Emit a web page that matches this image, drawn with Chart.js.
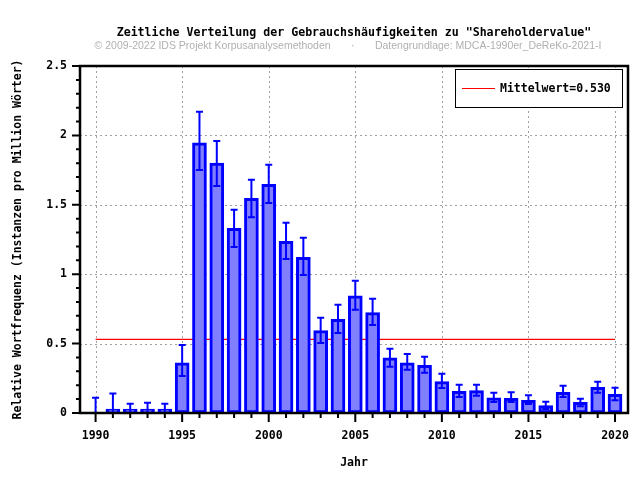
<!DOCTYPE html>
<html>
<head>
<meta charset="utf-8">
<script src="https://cdn.jsdelivr.net/npm/chart.js@4/dist/chart.umd.min.js"></script>
<style>
  html, body { margin: 0; padding: 0; background: #fff; }
  canvas { display: block; }
</style>
</head>
<body>
<canvas id="chart" width="640" height="480"></canvas>
<script>
const years = [1990, 1991, 1992, 1993, 1994, 1995, 1996, 1997, 1998, 1999, 2000,
  2001, 2002, 2003, 2004, 2005, 2006, 2007, 2008, 2009, 2010,
  2011, 2012, 2013, 2014, 2015, 2016, 2017, 2018, 2019, 2020]
const values = [0, 0.02, 0.012, 0.02, 0.012, 0.362, 1.947, 1.80, 1.33, 1.547, 1.648,
  1.237, 1.122, 0.593, 0.675, 0.845, 0.723, 0.398, 0.362, 0.343, 0.226,
  0.156, 0.161, 0.11, 0.106, 0.091, 0.053, 0.149, 0.077, 0.185, 0.135]
const errLow = [0, 0, 0, 0, 0, 0.267, 1.75, 1.635, 1.196, 1.41, 1.513,
  1.11, 0.994, 0.504, 0.576, 0.744, 0.634, 0.334, 0.312, 0.29, 0.18,
  0.115, 0.125, 0.079, 0.079, 0.065, 0.029, 0.115, 0.048, 0.146, 0.091]
const errHigh = [0.11, 0.14, 0.067, 0.074, 0.067, 0.49, 2.17, 1.96, 1.465, 1.68, 1.789,
  1.371, 1.263, 0.687, 0.78, 0.953, 0.823, 0.463, 0.425, 0.406, 0.283,
  0.204, 0.204, 0.146, 0.149, 0.128, 0.081, 0.197, 0.103, 0.226, 0.182]
const meanValue = 0.530
const xTicks = [1990, 1995, 2000, 2005, 2010, 2015, 2020]
const yTicks = [0, 0.5, 1, 1.5, 2, 2.5]
const yTickLabels = ["0", "0.5", "1", "1.5", "2", "2.5"]

const titleText = 'Zeitliche Verteilung der Gebrauchshäufigkeiten zu "Shareholdervalue"'
const subtitleText = "© 2009-2022 IDS Projekt Korpusanalysemethoden       ·       Datengrundlage: MDCA-1990er_DeReKo-2021-I"

const mono = '"DejaVu Sans Mono", monospace'
const tickFont = { family: mono, size: 11.5, weight: "bold" }

const decor = {
    id: "decor",
    beforeDatasetsDraw(chart) {
        const { ctx, chartArea: a, scales: { x, y } } = chart
        ctx.save()
        ctx.strokeStyle = "#a0a0a0"
        ctx.lineWidth = 1
        ctx.setLineDash([2, 3])
        ctx.beginPath()
        xTicks.forEach(v => {
            const px = Math.round(x.getPixelForValue(v)) + 0.5
            ctx.moveTo(px, a.top)
            ctx.lineTo(px, a.bottom)
        })
        yTicks.slice(1, -1).forEach(v => {
            const py = Math.round(y.getPixelForValue(v)) + 0.5
            ctx.moveTo(a.left, py)
            ctx.lineTo(a.right, py)
        })
        ctx.stroke()
        ctx.restore()
    },
    afterDatasetsDraw(chart) {
        const { ctx, chartArea: a, scales: { x, y } } = chart
        ctx.save()

        // error bars
        ctx.strokeStyle = "#0000ff"
        ctx.lineWidth = 2
        ctx.beginPath()
        years.forEach((yr, i) => {
            const px = x.getPixelForValue(yr)
            const lo = y.getPixelForValue(errLow[i])
            const hi = y.getPixelForValue(errHigh[i])
            ctx.moveTo(px, lo)
            ctx.lineTo(px, hi)
            ctx.moveTo(px - 3.5, lo)
            ctx.lineTo(px + 3.5, lo)
            ctx.moveTo(px - 3.5, hi)
            ctx.lineTo(px + 3.5, hi)
        })
        ctx.stroke()

        // tick marks
        ctx.strokeStyle = "#000"
        ctx.lineWidth = 2
        ctx.beginPath()
        for (let yr = xTicks[0]; yr <= xTicks[xTicks.length - 1]; yr++) {
            const px = x.getPixelForValue(yr)
            const len = xTicks.includes(yr) ? 9 : 5
            ctx.moveTo(px, a.bottom)
            ctx.lineTo(px, a.bottom + len)
        }
        for (let k = 0; k <= 25; k++) {
            const py = y.getPixelForValue(k / 10)
            const len = k % 5 === 0 ? 8 : 4
            ctx.moveTo(a.left, py)
            ctx.lineTo(a.left - len, py)
        }
        ctx.stroke()

        // frame
        ctx.lineWidth = 2.5
        ctx.strokeRect(a.left, a.top, a.right - a.left, a.bottom - a.top)

        // legend
        const lx = a.right - 173, ly = a.top + 3, lw = 167, lh = 38
        ctx.fillStyle = "#fff"
        ctx.fillRect(lx, ly, lw, lh)
        ctx.lineWidth = 1
        ctx.strokeRect(lx + 0.5, ly + 0.5, lw, lh)
        const ds = chart.data.datasets[1]
        ctx.strokeStyle = ds.borderColor
        ctx.beginPath()
        ctx.moveTo(lx + 7, ly + 19.5)
        ctx.lineTo(lx + 40, ly + 19.5)
        ctx.stroke()
        ctx.fillStyle = "#000"
        ctx.font = "bold 11.5px " + mono
        ctx.textBaseline = "middle"
        ctx.textAlign = "left"
        ctx.fillText(ds.label, lx + 45, ly + 20)

        ctx.restore()
    },
    afterDraw(chart) {
        const { ctx, chartArea: a } = chart
        const cx = (a.left + a.right) / 2
        ctx.save()
        ctx.textAlign = "center"
        ctx.textBaseline = "middle"
        ctx.fillStyle = "#000"
        ctx.font = "bold 11.6px " + mono
        ctx.fillText(titleText, cx, 33)
        ctx.fillStyle = "#b0b0b0"
        ctx.font = '10.5px "Liberation Sans", Arial, sans-serif'
        ctx.fillText(subtitleText, cx - 6, 46)
        ctx.restore()
    }
}

new Chart(document.getElementById("chart"), {
    type: "bar",
    data: {
        datasets: [
            {
                label: "Relative Wortfrequenz",
                // a zero year has no bar at all, only its error bar
                data: years.map((yr, i) => ({ x: yr, y: values[i] === 0 ? null : values[i] })),
                backgroundColor: "#8080ff",
                borderColor: "#0000ff",
                borderWidth: 3,
                borderSkipped: false,
                barThickness: 14,
                minBarLength: 4,
                order: 0,
            },
            {
                type: "line",
                label: "Mittelwert=" + meanValue.toFixed(3),
                data: [
                    { x: years[0], y: meanValue },
                    { x: years[years.length - 1], y: meanValue },
                ],
                borderColor: "#ff0000",
                borderWidth: 1.2,
                pointRadius: 0,
                order: 1,
            },
        ],
    },
    options: {
        responsive: false,
        animation: false,
        layout: { padding: { top: 66, right: 12, bottom: 0, left: 0 } },
        plugins: {
            legend: { display: false },
            tooltip: { enabled: false },
        },
        scales: {
            x: {
                type: "linear",
                offset: false,
                min: 1989.1,
                max: 2020.75,
                afterBuildTicks: s => { s.ticks = xTicks.map(v => ({ value: v })) },
                afterFit: s => { s.height = 67; s.paddingLeft = 0; s.paddingRight = 0 },
                grid: { display: false, drawTicks: false, offset: false },
                border: { display: false },
                ticks: { padding: 16, color: "#000", font: tickFont, callback: v => String(v) },
                title: { display: true, text: "Jahr", color: "#000", font: tickFont, padding: { top: 0, bottom: 10 } },
            },
            y: {
                min: 0,
                max: 2.5,
                afterBuildTicks: s => { s.ticks = yTicks.map(v => ({ value: v })) },
                afterFit: s => { s.width = 80 },
                grid: { display: false, drawTicks: false },
                border: { display: false },
                ticks: { padding: 13, color: "#000", font: tickFont, callback: (v, i) => yTickLabels[i] },
                title: {
                    display: true,
                    text: "Relative Wortfrequenz (Instanzen pro Million Wörter)",
                    color: "#000",
                    font: tickFont,
                    padding: { top: 11, bottom: 0 },
                },
            },
        },
    },
    plugins: [decor],
})
</script>
</body>
</html>
